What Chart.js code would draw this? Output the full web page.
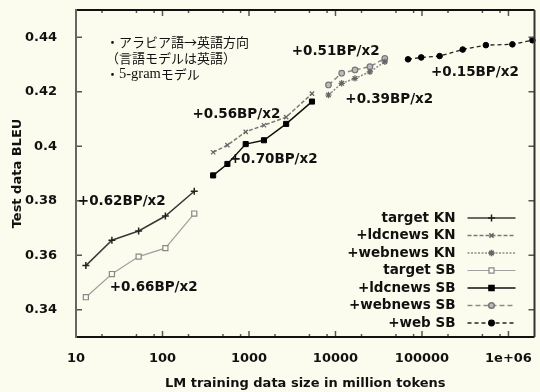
<!DOCTYPE html>
<html>
<head>
<meta charset="utf-8">
<script src="https://cdn.jsdelivr.net/npm/chart.js@4.4.1/dist/chart.umd.min.js"></script>
<style>
  html, body { margin: 0; padding: 0; background: #fcfcee; }
  #wrap { width: 540px; height: 392px; }
</style>
</head>
<body>
<div id="wrap"><canvas id="c" width="540" height="392"></canvas></div>
<script>
// BLEU vs LM training data size (million tokens)
const xTarget = [13, 26, 53, 108, 233];
const targetKN = [0.3562, 0.3655, 0.3689, 0.3744, 0.3835];
const targetSB = [0.3446, 0.3531, 0.3595, 0.3626, 0.3753];

const xLdc = [385, 563, 916, 1490, 2690, 5350];
const ldcKN = [0.3978, 0.4004, 0.4053, 0.4077, 0.4107, 0.4193];
const ldcSB = [0.3893, 0.3935, 0.4008, 0.4022, 0.4082, 0.4164];

const xWebnews = [8300, 11800, 16800, 25000, 37200];
const webnewsKN = [0.4188, 0.4231, 0.4249, 0.4273, 0.4310];
const webnewsSB = [0.4225, 0.4268, 0.4280, 0.4292, 0.4322];

const xWeb = [69000, 98000, 160000, 296000, 548000, 1110000, 1890000];
const webSB = [0.4319, 0.4326, 0.4331, 0.4355, 0.4371, 0.4374, 0.4389];

const xTicks = [10, 100, 1000, 10000, 100000, 1000000];
const xTickLabels = ['10', '100', '1000', '10000', '100000', '1e+06'];
const yTicks = [0.34, 0.36, 0.38, 0.40, 0.42, 0.44];
const yTickLabels = ['0.34', '0.36', '0.38', '0.4', '0.42', '0.44'];

// slope notes: [text, x, y] in data units (text left edge, vertical middle)
const slopeNotes = [
  ['+0.62BP/x2', 10.5, 0.3799],
  ['+0.66BP/x2', 24.6, 0.348],
  ['+0.56BP/x2', 222, 0.4118],
  ['+0.70BP/x2', 600, 0.395],
  ['+0.51BP/x2', 3120, 0.4346],
  ['+0.39BP/x2', 13000, 0.417],
  ['+0.15BP/x2', 127000, 0.4272]
];
const noteLines = ['・アラビア語→英語方向', '（言語モデルは英語）'];
const noteLast = ['・', '5-gram', 'モデル'];

const BG = '#fcfcee';

function pts(xs, ys) { return xs.map((x, i) => ({x, y: ys[i]})); }

const datasets = [
  {label: 'target KN', data: pts(xTarget, targetKN), borderColor: '#3a3a3a', borderWidth: 1.5,
   pointStyle: 'cross', pointRadius: 3.5, pointBorderWidth: 1.5, pointBorderColor: '#222'},
  {label: '+ldcnews KN', data: pts(xLdc, ldcKN), borderColor: '#777', borderWidth: 1.5, borderDash: [4, 2],
   pointStyle: 'crossRot', pointRadius: 3, pointBorderWidth: 1.3, pointBorderColor: '#666'},
  {label: '+webnews KN', data: pts(xWebnews, webnewsKN), borderColor: '#8a8a8a', borderWidth: 1.5, borderDash: [2, 1.5],
   pointStyle: 'star', pointRadius: 3.2, pointBorderWidth: 1.2, pointBorderColor: '#666'},
  {label: 'target SB', data: pts(xTarget, targetSB), borderColor: '#a0a0a0', borderWidth: 1.2,
   pointStyle: 'rect', pointRadius: 3.6, pointBorderWidth: 1.2, pointBorderColor: '#888', pointBackgroundColor: BG},
  {label: '+ldcnews SB', data: pts(xLdc, ldcSB), borderColor: '#111', borderWidth: 1.5,
   pointStyle: 'rect', pointRadius: 3.6, pointBorderWidth: 1, pointBorderColor: '#000', pointBackgroundColor: '#000'},
  {label: '+webnews SB', data: pts(xWebnews, webnewsSB), borderColor: '#8a8a8a', borderWidth: 1.5, borderDash: [5, 3],
   pointStyle: 'circle', pointRadius: 2.8, pointBorderWidth: 1.2, pointBorderColor: '#777', pointBackgroundColor: '#bbb'},
  {label: '+web SB', data: pts(xWeb, webSB), borderColor: '#222', borderWidth: 1.3, borderDash: [4, 3],
   pointStyle: 'circle', pointRadius: 2.8, pointBorderWidth: 1, pointBorderColor: '#000', pointBackgroundColor: '#000'}
];
datasets.forEach(d => { d.fill = false; d.tension = 0; d.clip = 6; });

const frame = {
  id: 'frame',
  afterDraw(chart) {
    const {ctx, chartArea: a, scales: {x, y}} = chart;
    const seg = (x1, y1, x2, y2) => { ctx.beginPath(); ctx.moveTo(x1, y1); ctx.lineTo(x2, y2); ctx.stroke(); };
    ctx.save();
    ctx.strokeStyle = '#555';
    ctx.lineWidth = 1.5;
    xTicks.forEach(v => {
      const px = x.getPixelForValue(v);
      seg(px, a.bottom, px, a.bottom - 6);
      seg(px, a.top, px, a.top + 6);
      [2, 5, 8].forEach(m => {
        const mx = x.getPixelForValue(v * m);
        if (mx < a.right - 2) { seg(mx, a.bottom, mx, a.bottom - 3); seg(mx, a.top, mx, a.top + 3); }
      });
    });
    yTicks.forEach(v => {
      const py = y.getPixelForValue(v);
      seg(a.left, py, a.left + 6, py);
      seg(a.right, py, a.right - 6, py);
    });
    ctx.lineWidth = 2;
    ctx.strokeStyle = '#111';
    seg(a.left, a.top, a.right, a.top);
    seg(a.left, a.bottom, a.right, a.bottom);
    ctx.strokeStyle = '#333';
    seg(a.right, a.top, a.right, a.bottom);
    ctx.strokeStyle = '#666';
    seg(a.left, a.top - 1, a.left, a.bottom + 1);

    // slope notes
    ctx.fillStyle = '#111';
    ctx.font = 'bold 13.5px "DejaVu Sans"';
    ctx.textBaseline = 'middle';
    ctx.textAlign = 'left';
    slopeNotes.forEach(([t, vx, vy]) => ctx.fillText(t, x.getPixelForValue(vx), y.getPixelForValue(vy)));

    // Japanese note
    const jp = '13px "Noto Sans CJK JP"';
    ctx.font = jp;
    noteLines.forEach((t, i) => ctx.fillText(t, a.left + 30, a.top + 32 + i * 16));
    let nx = a.left + 30;
    const ny = a.top + 64;
    noteLast.forEach((t, i) => {
      ctx.font = i === 1 ? '14.5px "Liberation Serif"' : jp;
      ctx.fillText(t, nx, ny);
      nx += ctx.measureText(t).width;
    });

    // legend: text, then sample line with marker
    ctx.font = 'bold 13.5px "DejaVu Sans"';
    ctx.textAlign = 'right';
    chart.data.datasets.forEach((d, i) => {
      const ry = a.top + 208 + i * 17.5;
      const tx = a.right - 79;
      ctx.fillStyle = '#111';
      ctx.fillText(d.label, tx, ry);
      const l0 = a.right - 67, l1 = a.right - 19;
      ctx.strokeStyle = d.borderColor;
      ctx.lineWidth = d.borderWidth;
      ctx.setLineDash(d.borderDash || []);
      seg(l0, ry, l1, ry);
      ctx.setLineDash([]);
      ctx.strokeStyle = d.pointBorderColor;
      ctx.fillStyle = d.pointBackgroundColor || d.pointBorderColor;
      Chart.helpers.drawPoint(ctx, {pointStyle: d.pointStyle, radius: d.pointRadius,
        borderWidth: d.pointBorderWidth, rotation: 0}, (l0 + l1) / 2, ry);
    });
    ctx.restore();
  }
};

new Chart(document.getElementById('c'), {
  type: 'line',
  data: {datasets},
  options: {
    responsive: false,
    animation: false,
    layout: {padding: {top: 10, right: 3, left: 0, bottom: 0}},
    plugins: {legend: {display: false}, tooltip: {enabled: false}},
    scales: {
      x: {
        type: 'logarithmic', min: 10, max: 2000000,
        grid: {display: false}, border: {display: false},
        afterBuildTicks: s => { s.ticks = xTicks.map(v => ({value: v})); },
        afterFit: s => { s.height = 55; s.paddingLeft = 0; s.paddingRight = 0; },
        ticks: {color: '#111', font: {family: 'DejaVu Sans', size: 13, weight: 'bold'}, padding: 6,
          maxRotation: 0, autoSkip: false,
          callback: (v) => xTickLabels[xTicks.indexOf(v)]},
        title: {display: true, text: 'LM training data size in million tokens', color: '#111',
          font: {family: 'DejaVu Sans', size: 13, weight: 'bold'}, padding: {top: 0, bottom: 1}}
      },
      y: {
        type: 'linear', min: 0.33, max: 0.45,
        grid: {display: false}, border: {display: false},
        afterBuildTicks: s => { s.ticks = yTicks.map(v => ({value: v})); },
        afterFit: s => { s.width = 76; s.paddingTop = 0; s.paddingBottom = 0; },
        ticks: {color: '#111', font: {family: 'DejaVu Sans', size: 13, weight: 'bold'}, padding: 11,
          callback: (v) => yTickLabels[yTicks.findIndex(t => Math.abs(t - v) < 1e-9)]},
        title: {display: true, text: 'Test data BLEU', color: '#111',
          font: {family: 'DejaVu Sans', size: 13, weight: 'bold'}, padding: {top: 10, bottom: 0}}
      }
    }
  },
  plugins: [frame]
});
</script>
</body>
</html>
